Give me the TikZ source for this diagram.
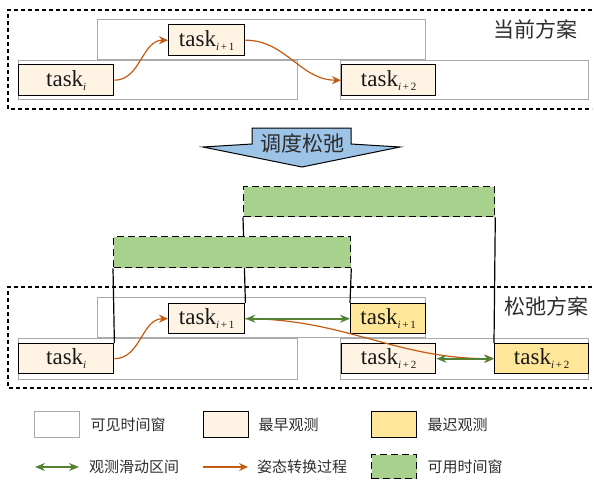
\documentclass[tikz,border=0pt]{standalone}
\usepackage{fontspec}
\setmainfont{Liberation Serif}
\newfontfamily\taskfont{Liberation Serif}
\newfontfamily\cjk{Noto Sans CJK SC}
\usetikzlibrary{arrows.meta, positioning}

\definecolor{earlyfill}{RGB}{255,244,227}
\definecolor{latefill}{RGB}{255,230,153}
\definecolor{availfill}{RGB}{169,209,142}
\definecolor{slidegreen}{RGB}{84,130,53}
\definecolor{turnorange}{RGB}{197,90,17}
\definecolor{wingray}{RGB}{170,170,170}
\definecolor{arrowblue}{RGB}{157,195,230}
\definecolor{cjkgray}{RGB}{45,45,45}

\newcommand{\tasklabel}[1]{task\raisebox{-0.35ex}{\fontsize{11}{11}\selectfont #1}}

\begin{document}
\begin{tikzpicture}[
        x=1pt, y=-1pt,
        window/.style={rectangle, draw=wingray, line width=1.3pt, fill=white, inner sep=0pt, anchor=north west},
        early/.style={rectangle, draw=black, line width=1.4pt, fill=earlyfill, inner sep=0pt,
                      anchor=north west, text=black!90, font=\taskfont\fontsize{23}{23}\selectfont},
        late/.style={early, fill=latefill},
        avail/.style={rectangle, draw=black, line width=1.3pt, dash pattern=on 7pt off 4pt,
                      fill=availfill, inner sep=0pt, anchor=north west},
        frame/.style={line width=1.1pt, dash pattern=on 4pt off 3pt},
        edge/.style={line width=1.2pt},
        turn/.style={draw=turnorange, line width=1.2pt, -{Stealth[length=9pt, width=8pt]}},
        slide/.style={draw=slidegreen, line width=1.6pt,
                      {Stealth[length=10pt, width=8pt]}-{Stealth[length=10pt, width=8pt]}},
        scheme/.style={font=\cjk\fontsize{21}{21}\selectfont, text=cjkgray, inner sep=0pt},
        legend/.style={font=\cjk\fontsize{15}{15}\selectfont, text=cjkgray, inner sep=0pt, anchor=west}
    ]
        \useasboundingbox (0,0) rectangle (594,482);

        % current scheme
        \draw[frame] (592,10) -- (8,10) -- (8,109) -- (592,109);
        \node[window, minimum width=279, minimum height=39] (curwina) at (18,60) {};
        \node[window, minimum width=328, minimum height=40] (curwinb) at (97,19) {};
        \node[window, minimum width=248, minimum height=39] (curwinc) at (340,60) {};

        \node[early, minimum width=95, minimum height=31] (curtaska) at (18,64) {\tasklabel{\textit{i}}};
        \node[early, minimum width=76, minimum height=31] (curtaskb) at (168,24) {\tasklabel{\textit{i}\,+\,1}};
        \node[early, minimum width=94, minimum height=31] (curtaskc) at (341,64) {\tasklabel{\textit{i}\,+\,2}};
        \node[scheme] (curname) at (535,29) {当前方案};

        \draw[turn] (curtaska.east) to[out=0, in=180] (curtaskb.west);
        \draw[turn] (curtaskb.east) to[out=0, in=180] (curtaskc.west);

        % relaxation arrow
        \draw[fill=arrowblue, line width=1pt] (252,128) -- (351,128) -- (351,144) -- (400,147)
            -- (302,167) -- (203,147) -- (252,144) -- cycle;
        \node[scheme] (relax) at (302,143) {调度松弛};

        % relaxed scheme
        \draw[frame] (592,287) -- (8,287) -- (8,388) -- (592,388);
        \node[window, minimum width=279, minimum height=41] (relwina) at (18,338) {};
        \node[window, minimum width=328, minimum height=40] (relwinb) at (97,297) {};
        \node[window, minimum width=248, minimum height=41] (relwinc) at (340,338) {};

        \node[early, minimum width=95, minimum height=30] (reltaska) at (18,343) {\tasklabel{\textit{i}}};
        \node[early, minimum width=76, minimum height=30] (reltaskb) at (168,303) {\tasklabel{\textit{i}\,+\,1}};
        \node[late, minimum width=75, minimum height=30] (reltaskblate) at (350,303) {\tasklabel{\textit{i}\,+\,1}};
        \node[early, minimum width=94, minimum height=30] (reltaskc) at (341,343) {\tasklabel{\textit{i}\,+\,2}};
        \node[late, minimum width=94, minimum height=30] (reltaskclate) at (494,343) {\tasklabel{\textit{i}\,+\,2}};
        \node[scheme] (relname) at (546,306) {松弛方案};

        \node[avail, minimum width=251, minimum height=30] (availa) at (243,186) {};
        \draw[edge] (availa.south west) -- (reltaskb.north east);
        \draw[edge] (availa.south east) -- (reltaskclate.north west);
        \node[avail, minimum width=237, minimum height=31] (availb) at (113,236) {};
        \draw[edge] (availb.south west) -- (reltaska.north east);
        \draw[edge] (availb.south east) -- (reltaskblate.north west);

        \draw[turn] (reltaska.east) to[out=0, in=180] (reltaskb.west);
        \draw[turn] (reltaskb.east) to[out=0, in=180] (reltaskclate.west);
        \draw[slide] (reltaskb.east) -- (reltaskblate.west);
        \draw[slide] (reltaskc.east) -- (reltaskclate.west);

        % legend
        \node[window, minimum width=45, minimum height=26] (keywin) at (34,411) {};
        \node[legend, right=10pt of keywin] (keywintext) {可见时间窗};
        \node[early, minimum width=45, minimum height=26] (keyearly) at (203,411) {};
        \node[legend, right=9pt of keyearly] (keyearlytext) {最早观测};
        \node[late, minimum width=45, minimum height=26] (keylate) at (371,411) {};
        \node[legend, right=10pt of keylate] (keylatetext) {最迟观测};

        \coordinate (keyslidea) at (35,467);
        \coordinate (keyslideb) at (79,467);
        \draw[slide] (keyslidea) -- (keyslideb);
        \node[legend, right=10pt of keyslideb] (keyslidetext) {观测滑动区间};
        \coordinate (keyturna) at (203,467);
        \coordinate (keyturnb) at (248,467);
        \draw[turn] (keyturna) -- (keyturnb);
        \node[legend, right=9pt of keyturnb] (keyturntext) {姿态转换过程};
        \node[avail, minimum width=45, minimum height=24] (keyavail) at (371,454) {};
        \node[legend, right=10pt of keyavail] (keyavailtext) {可用时间窗};
    \end{tikzpicture}
\end{document}
